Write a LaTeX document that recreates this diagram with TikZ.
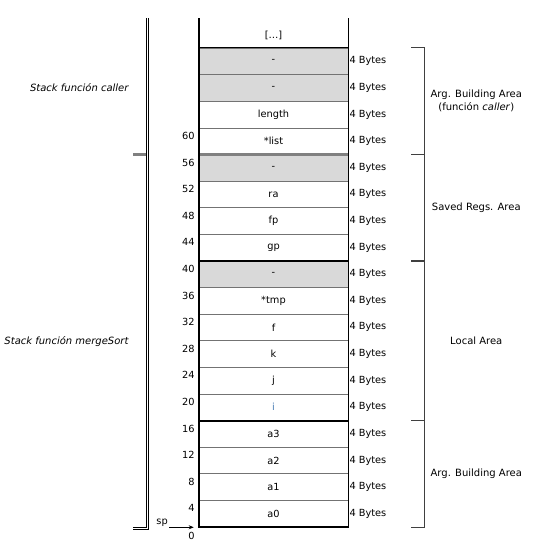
\documentclass[tikz,border=0pt]{standalone}
\usepackage{fontspec}
\setmainfont{DejaVu Sans}
\usepackage{tikz}
\usetikzlibrary{positioning, arrows.meta}
\definecolor{regblue}{RGB}{74,125,180}
\tikzset{
    cell/.style={
        draw=black!55,
        line width=0.6pt,
        minimum width=149pt,
        minimum height=26.61pt,
        inner sep=0pt,
        on grid
    },
    free/.style={
        cell,
        fill=black!15
    },
    wall/.style={line width=1.6pt, draw=black},
    split/.style={line width=3pt, draw=black!50},
    rail/.style={draw=black, line width=0.8pt},
    area/.style={draw=black!75, line width=1pt},
    arealbl/.style={xshift=52pt, align=center, font=\fontsize{10}{13}\selectfont},
    stacklbl/.style={anchor=east, font=\fontsize{10}{12}\selectfont\itshape},
    offset/.style={anchor=north east, inner sep=1pt, xshift=-3pt, yshift=-3.5pt},
    bytes/.style={anchor=west, inner sep=1pt}
}

\begin{document}
\begin{tikzpicture}[x=1pt, y=-1pt, node distance=26.61pt, font=\fontsize{9.8}{12}\selectfont]
    \useasboundingbox (0,0) rectangle (558,554);
    % Help lines :
    %\draw [help lines, step=10] (0,0) grid (558,554);

    % Stack rows
    \node (dots) at (273.5,35) {[…]};
    \node (r1) [free] at (273.5,61.3) {-};
    \node (r2) [free, below = of r1] {-};
    \node (r3) [cell, below = of r2] {length};
    \node (r4) [cell, below = of r3] {*list};
    \node (r5) [free, below = of r4] {-};
    \node (r6) [cell, below = of r5] {ra};
    \node (r7) [cell, below = of r6] {fp};
    \node (r8) [cell, below = of r7] {gp};
    \node (r9) [free, below = of r8] {-};
    \node (r10) [cell, below = of r9] {*tmp};
    \node (r11) [cell, below = of r10] {f};
    \node (r12) [cell, below = of r11] {k};
    \node (r13) [cell, below = of r12] {j};
    \node (r14) [cell, text=regblue, below = of r13] {i};
    \node (r15) [cell, below = of r14] {a3};
    \node (r16) [cell, below = of r15] {a2};
    \node (r17) [cell, below = of r16] {a1};
    \node (r18) [cell, below = of r17] {a0};

    % Sizes and offsets
    \foreach \r in {1,...,18}
        \node (bytes\r) [bytes] at (r\r.east) {4 Bytes};
    \foreach \r/\off in {4/60, 5/56, 6/52, 7/48, 8/44, 9/40, 10/36, 11/32,
                         12/28, 13/24, 14/20, 15/16, 16/12, 17/8, 18/4}
        \node (off\off) [offset] at (r\r.north west) {\off};
    \node (zero) [anchor=north east, inner sep=1pt] at ([xshift=-3pt, yshift=-4pt]r18.south west) {0};

    % Column walls
    \coordinate (ctop) at (273.5,18);
    \draw [split] (r4.south west) -- (r4.south east);
    \draw [wall] (r1.north west) -- (r1.north east);
    \draw [wall] (r8.south west) -- (r8.south east);
    \draw [wall] (r14.south west) -- (r14.south east);
    \draw [wall] (ctop -| r1.west) -- (r18.south west) -- (r18.south east) -- (ctop -| r1.east);

    % Stack pointer
    \node (sp) [anchor=south east, inner sep=1pt] at (169,528) {sp};
    \draw [-{Stealth[length=5pt, width=4pt]}, line width=0.7pt, shorten >=5pt]
        (sp.east |- r18.south) -- (r18.south west);

    % Frames of both functions
    \coordinate (ltop) at (146,18);
    \coordinate (lfoot) at (133,527);
    \draw [rail] (ltop) |- (lfoot);
    \draw [rail] ([xshift=2.5pt]ltop) |- ([yshift=-2.5pt]lfoot);
    \draw [split] (lfoot |- r4.south) -- ([xshift=-0.4pt]ltop |- r4.south);
    \node (callerstk) [stacklbl] at (132,88) {Stack función caller};
    \node (sortstk) [stacklbl] at (132,342) {Stack función mergeSort};

    % Areas
    \draw [area] ([xshift=63pt]r1.north east) -- ([xshift=76pt]r1.north east)
        -- node (argcaller) [arealbl] {Arg. Building Area\\(función \textit{caller})} ([xshift=76pt]r4.south east)
        -- ([xshift=63pt]r4.south east);
    \draw [area] ([xshift=63pt]r5.north east) -- ([xshift=76pt]r5.north east)
        -- node (saved) [arealbl] {Saved Regs. Area} ([xshift=76pt]r8.south east)
        -- ([xshift=63pt]r8.south east);
    \draw [area] ([xshift=63pt]r9.north east) -- ([xshift=76pt]r9.north east)
        -- node (local) [arealbl] {Local Area} ([xshift=76pt]r14.south east)
        -- ([xshift=63pt]r14.south east);
    \draw [area] ([xshift=63pt]r15.north east) -- ([xshift=76pt]r15.north east)
        -- node (argsort) [arealbl] {Arg. Building Area} ([xshift=76pt]r18.south east)
        -- ([xshift=63pt]r18.south east);
\end{tikzpicture}
\end{document}
